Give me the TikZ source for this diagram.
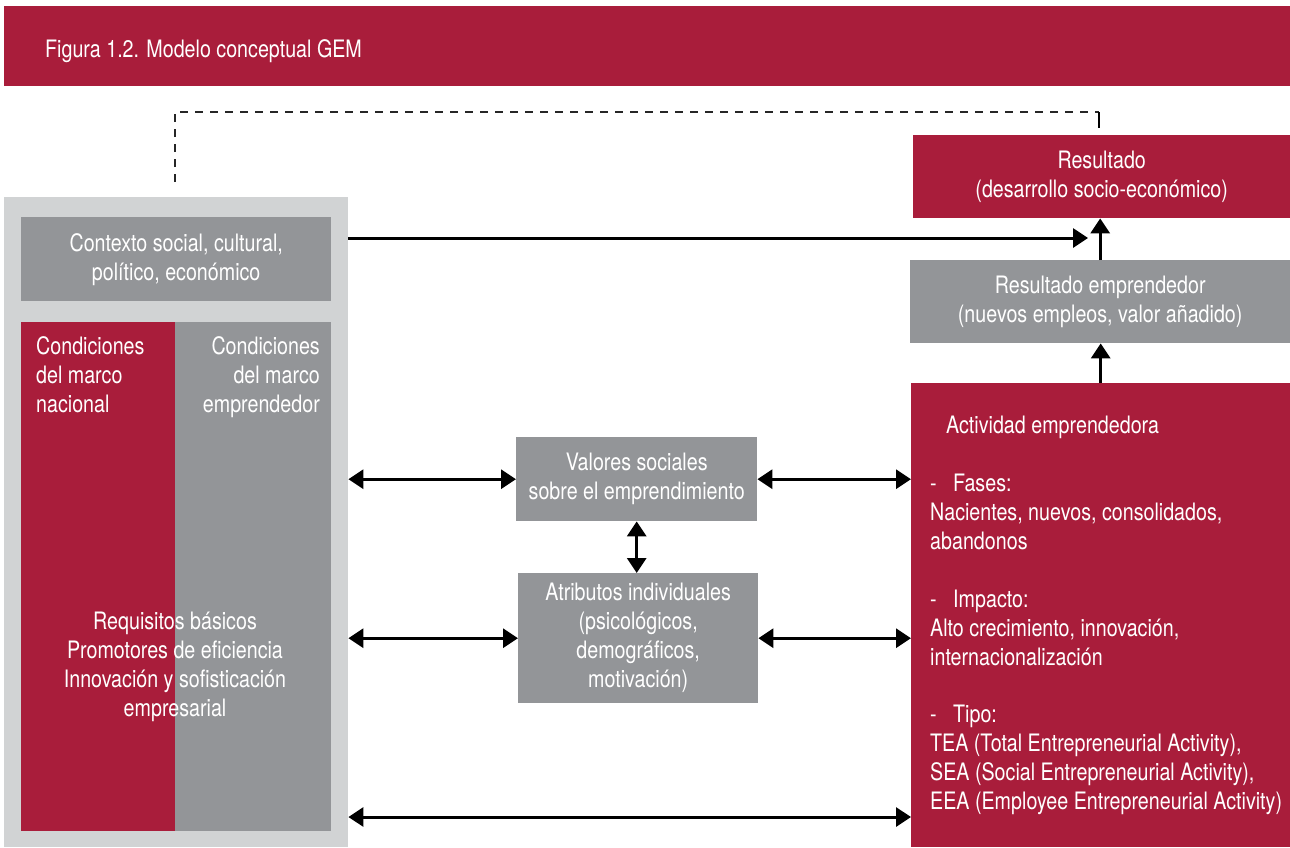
\documentclass[tikz,border=0pt]{standalone}
\usepackage{fontspec}
\setmainfont{TeX Gyre Heros}[FakeStretch=0.82]
\usepackage{tikz}
\usetikzlibrary{positioning,calc,arrows.meta}
\definecolor{gemred}{RGB}{169,29,59}
\definecolor{gemgray}{RGB}{147,149,152}
\definecolor{gemlight}{RGB}{209,211,212}

\begin{document}
\begin{tikzpicture}[x=1pt,y=-1pt,
        every node/.style={inner sep=0pt, text=white, font=\fontsize{24}{29}\selectfont},
        box/.style={rectangle, anchor=north west, align=center},
        link/.style={line width=3pt, {Triangle[length=15pt,width=19pt]}-{Triangle[length=15pt,width=19pt]}},
        oneway/.style={line width=3pt, -{Triangle[length=15pt,width=19pt]}},
        feedback/.style={line width=2.5pt, black!85, dash pattern=on 8pt off 7pt}]
        \useasboundingbox (0,0) rectangle (1290,847);
        \node[box, fill=gemred, minimum width=1286pt, minimum height=80pt] (titulo) at (4,6) {};
        \node[anchor=base west] (titulotxt) at (45,57) {Figura 1.2. Modelo conceptual GEM};
        \node[box, fill=gemlight, minimum width=344pt, minimum height=650pt] (marco) at (4,197) {};
        \node[box, fill=gemgray, minimum width=310pt, minimum height=84pt] (contexto) at (21,217) {Contexto social, cultural,\\político, económico};
        \node[box, fill=gemred, minimum width=154pt, minimum height=509pt] (nacional) at (21,322) {};
        \node[box, fill=gemgray, minimum width=156pt, minimum height=509pt] (emprendedor) at (175,322) {};
        \node[anchor=north west, align=left] (nacionaltxt) at (36,336) {Condiciones\\del marco\\nacional};
        \node[anchor=north east, align=right] (emprendedortxt) at (320,336) {Condiciones\\del marco\\emprendedor};
        \node[align=center] (requisitos) at (175,667) {Requisitos básicos\\Promotores de eficiencia\\Innovación y sofisticación\\empresarial};
        \node[box, fill=gemred, minimum width=377pt, minimum height=83pt] (resultado) at (913,135) {Resultado\\(desarrollo socio-económico)};
        \node[box, fill=gemgray, minimum width=380pt, minimum height=83pt] (remp) at (910,260) {Resultado emprendedor\\(nuevos empleos, valor añadido)};
        \node[box, fill=gemgray, minimum width=241pt, minimum height=84pt] (valores) at (516,437) {Valores sociales\\sobre el emprendimiento};
        \node[box, fill=gemgray, minimum width=240pt, minimum height=130pt] (atributos) at (518,573) {Atributos individuales\\(psicológicos,\\demográficos,\\motivación)};
        \node[box, fill=gemred, minimum width=379pt, minimum height=464pt] (actividad) at (911,383) {};
        \node[anchor=north west, align=left] (actividadtxt) at (930,416) {\hspace*{16pt}Actividad emprendedora\\[29pt]
                \makebox[23pt][l]{-}Fases:\\Nacientes, nuevos, consolidados,\\abandonos\\[29pt]
                \makebox[23pt][l]{-}Impacto:\\Alto crecimiento, innovación,\\internacionalización\\[28pt]
                \makebox[23pt][l]{-}Tipo:\\TEA (Total Entrepreneurial Activity),\\SEA (Social Entrepreneurial Activity),\\EEA (Employee Entrepreneurial Activity)};
        \coordinate (fbA) at (175,182);
        \coordinate (fbB) at (1099,112);
        \coordinate (fbC) at (1099,128);
        \draw[feedback] (fbA) |- (fbB);
        \draw[line width=2.5pt] (fbB) -- (fbC);
        \coordinate (ctxend) at (1088,238);
        \draw[oneway] (ctxend -| marco.east) -- (ctxend);
        \draw[oneway] (remp.north) -- (remp.north |- resultado.south);
        \draw[oneway] (actividad.north) -- (actividad.north |- remp.south);
        \draw[link] (valores.west -| marco.east) -- (valores.west);
        \draw[link] (valores.east) -- (valores.east -| actividad.west);
        \draw[link] (valores.south) -- (valores.south |- atributos.north);
        \draw[link] (atributos.west -| marco.east) -- (atributos.west);
        \draw[link] (atributos.east) -- (atributos.east -| actividad.west);
        \coordinate (bajo) at (630,817);
        \draw[link] (bajo -| marco.east) -- (bajo -| actividad.west);
    \end{tikzpicture}
\end{document}
